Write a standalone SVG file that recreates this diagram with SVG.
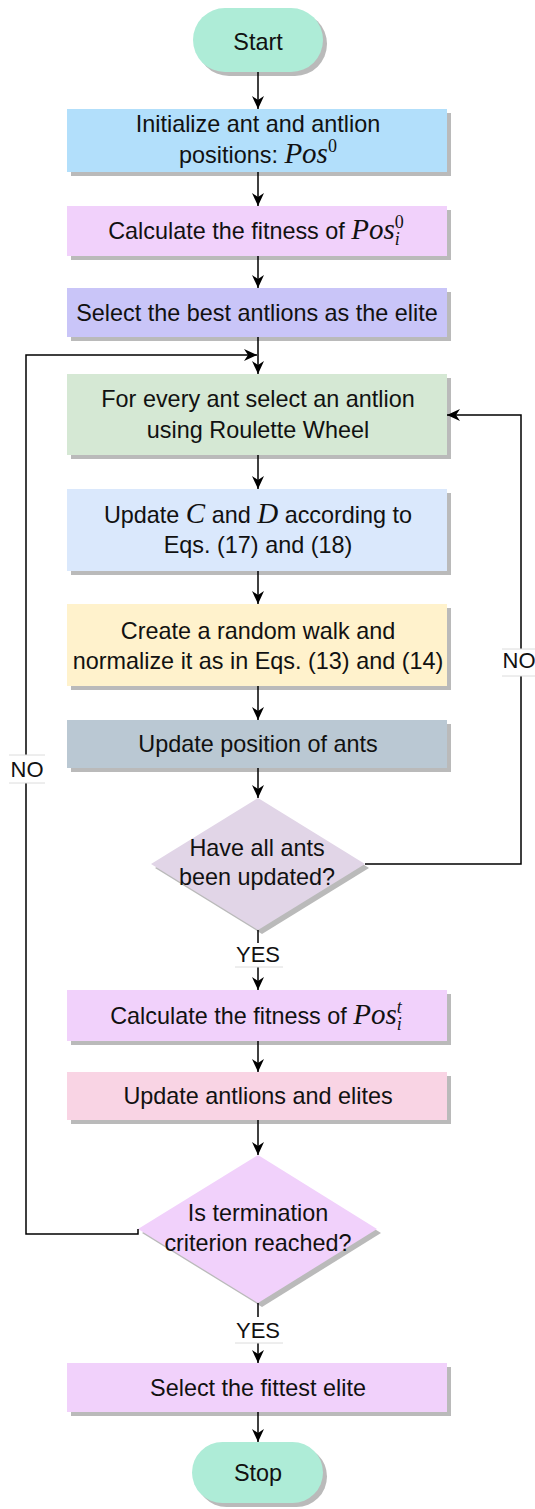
<svg xmlns="http://www.w3.org/2000/svg" width="535" height="1509" viewBox="0 0 535 1509">
<defs>
<marker id="arr" markerUnits="userSpaceOnUse" viewBox="0 0 13 12" markerWidth="13" markerHeight="12" refX="13" refY="6" orient="auto">
<path d="M0,0 L13,6 L0,12 L4,6 z" fill="#000"/>
</marker>
<style>
.t{font-family:"Liberation Sans",Arial,sans-serif;font-size:23.4px;fill:#111;text-anchor:middle}
.m{font-family:"Liberation Serif","Times New Roman",serif;font-style:italic;font-size:29px}
.s{font-family:"Liberation Serif","Times New Roman",serif;font-size:18px;font-style:normal}
.si{font-family:"Liberation Serif","Times New Roman",serif;font-style:italic;font-size:18px}
.sh{fill:#bababa}
.c{fill:none;stroke:#000;stroke-width:1.5}
.lb{font-family:"Liberation Sans",Arial,sans-serif;font-size:22px;text-anchor:middle;fill:#111}
.lbg{fill:#fff}
.lln{stroke:#dcdcdc;stroke-width:1}
</style>
</defs>
<rect width="535" height="1509" fill="#fff"/>

<g id="start">
<rect class="sh" x="197" y="12" width="130" height="64" rx="32"/>
<rect x="193" y="8" width="130" height="64" rx="32" fill="#aeecd7"/>
<text class="t" x="258" y="50">Start</text>
</g>

<g id="init">
<rect class="sh" x="71" y="113" width="380" height="63"/>
<rect x="67" y="109" width="380" height="63" fill="#b2dffb"/>
<text class="t" x="258" y="132">Initialize ant and antlion</text>
<text class="t" x="258" y="163">positions: <tspan class="m">Pos</tspan><tspan class="s" dy="-11">0</tspan></text>
</g>

<g id="fitness0">
<rect class="sh" x="71" y="210" width="380" height="50"/>
<rect x="67" y="206" width="380" height="50" fill="#f1d1fb"/>
<text class="t" x="256" y="239">Calculate the fitness of <tspan class="m">Pos</tspan><tspan class="s" dy="-11">0</tspan><tspan class="si" dx="-9" dy="17">i</tspan></text>
</g>

<g id="elite">
<rect class="sh" x="71" y="292" width="380" height="49"/>
<rect x="67" y="288" width="380" height="49" fill="#c9c5f8"/>
<text class="t" x="257" y="321">Select the best antlions as the elite</text>
</g>

<g id="roulette">
<rect class="sh" x="71" y="378" width="380" height="81"/>
<rect x="67" y="374" width="380" height="81" fill="#d5e8d4"/>
<text class="t" x="258" y="407">For every ant select an antlion</text>
<text class="t" x="258" y="438">using Roulette Wheel</text>
</g>

<g id="updateCD">
<rect class="sh" x="71" y="493" width="380" height="82"/>
<rect x="67" y="489" width="380" height="82" fill="#dae8fc"/>
<text class="t" x="258" y="523">Update <tspan class="m">C</tspan> and <tspan class="m">D</tspan> according to</text>
<text class="t" x="258" y="553">Eqs. (17) and (18)</text>
</g>

<g id="walk">
<rect class="sh" x="71" y="608" width="380" height="82"/>
<rect x="67" y="604" width="380" height="82" fill="#fff2cc"/>
<text class="t" x="258" y="639">Create a random walk and</text>
<text class="t" x="258" y="669">normalize it as in Eqs. (13) and (14)</text>
</g>

<g id="updatepos">
<rect class="sh" x="71" y="724" width="380" height="48"/>
<rect x="67" y="720" width="380" height="48" fill="#bac8d3"/>
<text class="t" x="258" y="752">Update position of ants</text>
</g>

<g id="allupdated">
<polygon class="sh" points="262,802 369,868 262,934 155,868"/>
<polygon points="258,798 365,864 258,930 151,864" fill="#e1d5e7"/>
<text class="t" x="257" y="856">Have all ants</text>
<text class="t" x="257" y="885">been updated?</text>
</g>

<g id="fitnesst">
<rect class="sh" x="71" y="994" width="380" height="51"/>
<rect x="67" y="990" width="380" height="51" fill="#f1d1fb"/>
<text class="t" x="256" y="1024">Calculate the fitness of <tspan class="m">Pos</tspan><tspan class="si" dy="-11">t</tspan><tspan class="si" dx="-5" dy="17">i</tspan></text>
</g>

<g id="updateelite">
<rect class="sh" x="71" y="1076" width="380" height="48"/>
<rect x="67" y="1072" width="380" height="48" fill="#f9d4e4"/>
<text class="t" x="258" y="1104">Update antlions and elites</text>
</g>

<g id="termination">
<polygon class="sh" points="262,1159 381,1233 262,1307 142,1233"/>
<polygon points="258,1155 377,1229 258,1303 138,1229" fill="#f1d1fb"/>
<text class="t" x="258" y="1221">Is termination</text>
<text class="t" x="258" y="1251">criterion reached?</text>
</g>

<g id="fittest">
<rect class="sh" x="71" y="1367" width="380" height="49"/>
<rect x="67" y="1363" width="380" height="49" fill="#f1d1fb"/>
<text class="t" x="258" y="1396">Select the fittest elite</text>
</g>

<g id="stop">
<rect class="sh" x="196" y="1446" width="131" height="61" rx="30.5"/>
<rect x="192" y="1442" width="131" height="61" rx="30.5" fill="#aeecd7"/>
<text class="t" x="258" y="1481">Stop</text>
</g>

<g id="connectors">
<path class="c" d="M258,72 V109" marker-end="url(#arr)"/>
<path class="c" d="M258,172 V206" marker-end="url(#arr)"/>
<path class="c" d="M258,256 V288" marker-end="url(#arr)"/>
<path class="c" d="M258,337 V374" marker-end="url(#arr)"/>
<path class="c" d="M258,455 V489" marker-end="url(#arr)"/>
<path class="c" d="M258,571 V604" marker-end="url(#arr)"/>
<path class="c" d="M258,686 V720" marker-end="url(#arr)"/>
<path class="c" d="M258,768 V798" marker-end="url(#arr)"/>
<path class="c" d="M258,930 V990" marker-end="url(#arr)"/>
<path class="c" d="M258,1041 V1072" marker-end="url(#arr)"/>
<path class="c" d="M258,1120 V1155" marker-end="url(#arr)"/>
<path class="c" d="M258,1303 V1363" marker-end="url(#arr)"/>
<path class="c" d="M258,1412 V1442" marker-end="url(#arr)"/>
<path class="c" d="M365,864 H521 V415 H447" marker-end="url(#arr)"/>
<path class="c" d="M138,1229 V1234 H26 V355 H257" marker-end="url(#arr)"/>

<g id="lbl-yes1">
<rect class="lbg" x="235" y="943" width="48" height="24"/>
<line class="lln" x1="235" y1="967" x2="283" y2="967"/>
<text class="lb" x="258" y="962">YES</text>
</g>
<g id="lbl-yes2">
<rect class="lbg" x="235" y="1317" width="48" height="26"/>
<line class="lln" x1="235" y1="1343" x2="283" y2="1343"/>
<text class="lb" x="258" y="1338">YES</text>
</g>
<g id="lbl-no1">
<rect class="lbg" x="502" y="649" width="35" height="27"/>
<line class="lln" x1="502" y1="649" x2="537" y2="649"/>
<line class="lln" x1="502" y1="676" x2="537" y2="676"/>
<text class="lb" x="519" y="668">NO</text>
</g>
<g id="lbl-no2">
<rect class="lbg" x="9" y="755" width="36" height="28"/>
<line class="lln" x1="9" y1="755" x2="45" y2="755"/>
<line class="lln" x1="9" y1="783" x2="45" y2="783"/>
<text class="lb" x="27" y="777">NO</text>
</g>
</g>
</svg>
